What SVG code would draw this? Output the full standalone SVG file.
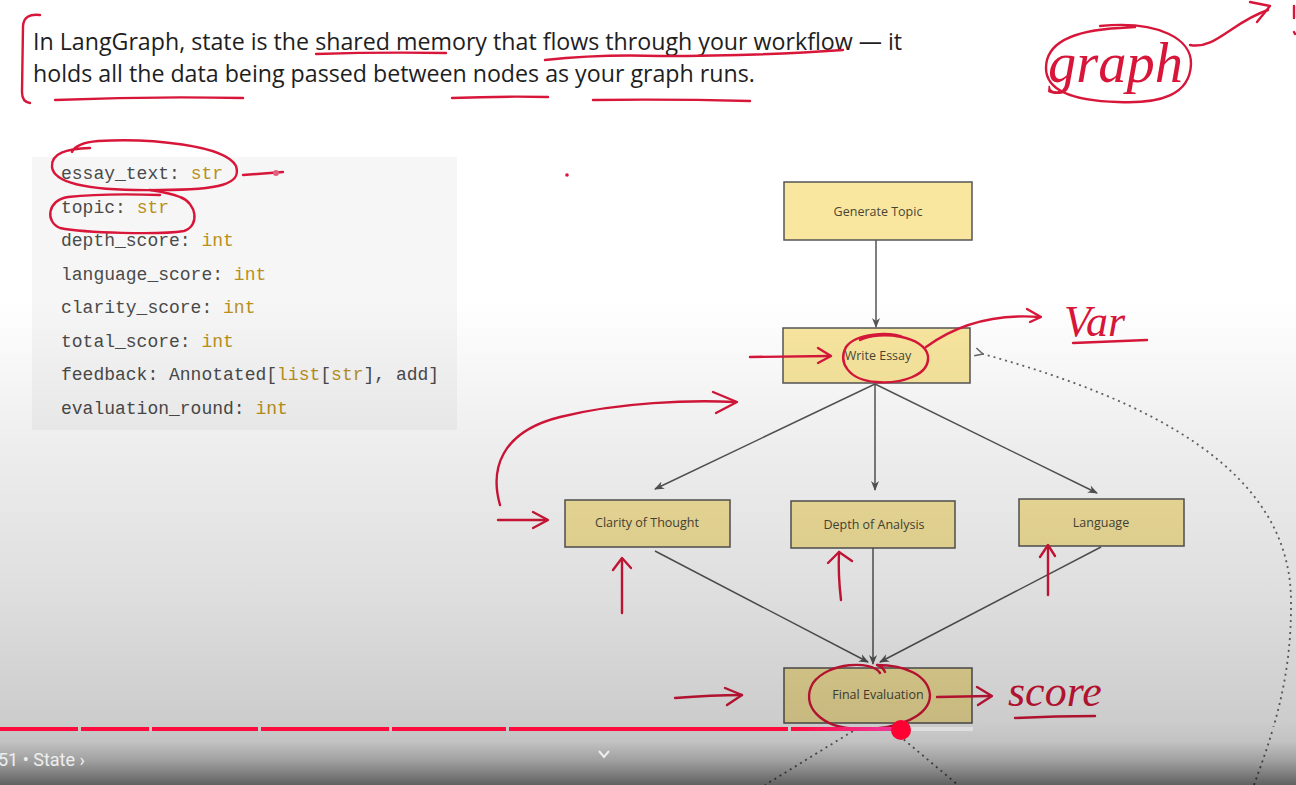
<svg xmlns="http://www.w3.org/2000/svg" width="1296" height="785" viewBox="0 0 1296 785">
<defs>
<style>
.head{font-family:"Open Sans","Liberation Sans",sans-serif;font-size:23.2px;fill:#1e1e1e}
.code{font-family:"Liberation Mono","DejaVu Sans Mono",monospace;font-size:18px;fill:#4a4a4a}
.ty{fill:#b8901c}
.node rect{fill:#f9e79f;stroke:#555;stroke-width:1.5}
.node text{font-family:"Open Sans","Liberation Sans",sans-serif;font-size:12.5px;fill:#4a4636;text-anchor:middle}
.edge{stroke:#555;stroke-width:1.5;fill:none}
.dot{stroke:#666;stroke-width:1.8;fill:none;stroke-dasharray:2 4}
.red{stroke:#d8163a;stroke-width:2.4;fill:none;stroke-linecap:round;stroke-linejoin:round}
.hand{font-family:"Liberation Serif","DejaVu Serif",serif;font-style:italic;fill:#d8163a}
.ui{font-family:Roboto,"Liberation Sans",sans-serif;font-size:18px;fill:#eeeeee}
</style>
<marker id="ah" viewBox="0 0 10 10" refX="9" refY="5" markerWidth="10" markerHeight="10" markerUnits="userSpaceOnUse" orient="auto">
<path d="M0,1 L10,5 L0,9 L3,5 z" fill="#555"/>
</marker>
<marker id="ahd" viewBox="0 0 10 10" refX="1" refY="5" markerWidth="10" markerHeight="10" markerUnits="userSpaceOnUse" orient="auto">
<path d="M9,1 L1,5 L9,9" fill="none" stroke="#666" stroke-width="1.5"/>
</marker>
<linearGradient id="shade" gradientUnits="userSpaceOnUse" x1="0" y1="0" x2="0" y2="785">
<stop offset="0.38" stop-color="#000" stop-opacity="0"/>
<stop offset="0.57" stop-color="#000" stop-opacity="0.07"/>
<stop offset="0.76" stop-color="#000" stop-opacity="0.13"/>
<stop offset="0.92" stop-color="#000" stop-opacity="0.2"/>
<stop offset="0.945" stop-color="#000" stop-opacity="0.24"/>
<stop offset="0.97" stop-color="#000" stop-opacity="0.38"/>
<stop offset="1" stop-color="#000" stop-opacity="0.62"/>
</linearGradient>
<linearGradient id="prog" x1="0" y1="0" x2="1" y2="0">
<stop offset="0" stop-color="#ff0a3c"/>
<stop offset="1" stop-color="#f03aa0"/>
</linearGradient>
</defs>

<rect x="0" y="0" width="1296" height="785" fill="#ffffff"/>

<!-- heading -->
<text class="head" x="33" y="50">In LangGraph, state is the shared memory that flows through your workflow — it</text>
<text class="head" x="33" y="82">holds all the data being passed between nodes as your graph runs.</text>

<!-- code block -->
<rect x="32" y="157" width="425" height="273" fill="#f6f6f6"/>
<text class="code" x="61" y="179">essay_text: <tspan class="ty">str</tspan></text>
<text class="code" x="61" y="213">topic: <tspan class="ty">str</tspan></text>
<text class="code" x="61" y="246">depth_score: <tspan class="ty">int</tspan></text>
<text class="code" x="61" y="280">language_score: <tspan class="ty">int</tspan></text>
<text class="code" x="61" y="313">clarity_score: <tspan class="ty">int</tspan></text>
<text class="code" x="61" y="347">total_score: <tspan class="ty">int</tspan></text>
<text class="code" x="61" y="380">feedback: Annotated[<tspan class="ty">list</tspan>[<tspan class="ty">str</tspan>], add]</text>
<text class="code" x="61" y="414">evaluation_round: <tspan class="ty">int</tspan></text>

<!-- connectors -->
<g id="connectors">
<line class="edge" x1="876" y1="240" x2="876" y2="327" marker-end="url(#ah)"/>
<line class="edge" x1="875" y1="384" x2="655" y2="489" marker-end="url(#ah)"/>
<line class="edge" x1="875" y1="384" x2="875" y2="490" marker-end="url(#ah)"/>
<line class="edge" x1="875" y1="384" x2="1097" y2="493" marker-end="url(#ah)"/>
<line class="edge" x1="655" y1="551" x2="868" y2="662" marker-end="url(#ah)"/>
<line class="edge" x1="873" y1="548" x2="873" y2="664" marker-end="url(#ah)"/>
<line class="edge" x1="1101" y1="547" x2="880" y2="662" marker-end="url(#ah)"/>
<path class="dot" d="M1254,785 C1272,735 1292,680 1291,600 C1290,470 1150,400 983,354" marker-end="url(#ahd)"/>
<line class="dot" x1="858" y1="728" x2="765" y2="785"/>
<line class="dot" x1="890" y1="728" x2="958" y2="785"/>
</g>

<!-- nodes -->
<g id="generate-topic" class="node"><rect x="784" y="182" width="188" height="58"/><text x="878" y="216">Generate Topic</text></g>
<g id="write-essay" class="node"><rect x="783" y="328" width="187" height="55"/><text x="878" y="360">Write Essay</text></g>
<g id="clarity" class="node"><rect x="565" y="500" width="165" height="47"/><text x="647" y="527">Clarity of Thought</text></g>
<g id="depth" class="node"><rect x="791" y="501" width="164" height="47"/><text x="874" y="529">Depth of Analysis</text></g>
<g id="language" class="node"><rect x="1019" y="499" width="165" height="47"/><text x="1101" y="527">Language</text></g>
<g id="final-evaluation" class="node"><rect x="784" y="668" width="188" height="55"/><text x="878" y="699">Final Evaluation</text></g>

<!-- red annotations -->
<g id="annotations">
<path class="red" d="M40,15 Q24,13 23,26 L22,92 Q22,102 30,103"/>
<path class="red" d="M316,54 Q380,52 446,53"/>
<path class="red" d="M545,60 Q600,54 660,56 Q760,56 843,50"/>
<path class="red" d="M55,100 Q150,96 243,98"/>
<path class="red" d="M452,98 Q500,96 548,97"/>
<path class="red" d="M593,100 Q670,99 750,101"/>

<path class="red" d="M1100,26 C1160,20 1192,40 1191,64 C1190,95 1160,104 1118,102 C1080,101 1046,93 1046,68 C1046,40 1080,30 1120,28 L1135,27"/>
<text class="hand" x="1048" y="82" font-size="56" textLength="135" lengthAdjust="spacingAndGlyphs">graph</text>
<path class="red" d="M1190,45 C1215,50 1232,22 1268,10"/>
<path class="red" d="M1250,2 L1270,6 L1257,22"/>
<path class="red" d="M1294,6 L1294,18 M1294,32 L1295,34"/>

<path class="red" d="M72,152 Q76,143 98,141 C150,138 225,145 236,166 C242,184 220,190 160,190 C100,191 54,186 52,167 C51,153 66,149 90,148"/>
<path class="red" d="M243,175 L283,172"/>
<circle cx="276" cy="173" r="3" fill="#e06080"/>
<path class="red" d="M150,190 Q170,193 180,197 C197,203 200,226 184,231 C160,235 85,233 60,228 C45,222 47,200 68,197 C95,194 130,194 160,195"/>
<circle cx="567" cy="175" r="1.8" fill="#d8163a"/>

<path class="red" d="M750,357 L830,356"/>
<path class="red" d="M818,348 L831,356 L818,363"/>
<path class="red" d="M860,340 C880,330 925,336 928,356 C930,376 900,384 876,382 C848,380 838,362 846,347 C856,333 890,331 905,338"/>
<path class="red" d="M926,347 C960,322 1000,314 1040,317"/>
<path class="red" d="M1027,309 L1041,317 L1030,322"/>
<text class="hand" x="1064" y="336" font-size="44">Var</text>
<path class="red" d="M1073,343 L1147,340"/>

<path class="red" d="M500,505 C490,470 500,432 560,417 C620,402 690,400 735,402"/>
<path class="red" d="M713,392 L737,402 L716,413"/>
<path class="red" d="M498,520 L547,520"/>
<path class="red" d="M533,512 L548,520 L533,528"/>
<path class="red" d="M622,613 L622,560"/>
<path class="red" d="M613,570 L622,558 L631,568"/>
<path class="red" d="M841,600 Q838,575 839,552"/>
<path class="red" d="M828,563 L839,552 L852,561"/>
<path class="red" d="M1048,595 L1048,546"/>
<path class="red" d="M1040,557 L1048,545 L1055,556"/>

<path class="red" d="M675,698 C700,696 720,695 742,695"/>
<path class="red" d="M725,688 L742,695 L727,705"/>
<path class="red" d="M880,673 C872,660 828,662 813,683 C800,705 820,728 858,729 C900,730 930,715 930,695 C928,675 905,665 877,665 Q883,667 885,672"/>
<path class="red" d="M937,697 L990,696"/>
<path class="red" d="M977,687 L992,696 L978,705"/>
<text class="hand" x="1008" y="706" font-size="44">score</text>
<path class="red" d="M1015,718 Q1055,716 1095,716"/>
</g>

<!-- video shading -->
<rect x="0" y="0" width="1296" height="785" fill="url(#shade)"/>

<!-- player UI -->
<g id="player">
<rect x="0" y="727" width="78" height="4" fill="#ff0a3c"/>
<rect x="81" y="727" width="68" height="4" fill="#ff0a3c"/>
<rect x="152" y="727" width="106" height="4" fill="#ff0a3c"/>
<rect x="261" y="727" width="128" height="4" fill="#ff0a3c"/>
<rect x="392" y="727" width="114" height="4" fill="#ff0a3c"/>
<rect x="509" y="727" width="279" height="4" fill="#ff0a3c"/>
<rect x="791" y="727" width="110" height="4" fill="url(#prog)"/>
<rect x="901" y="727" width="72" height="4" fill="#dedede"/>
<rect x="980" y="727" width="301" height="4" fill="#c8c8c8"/>
<rect x="1285" y="727" width="11" height="4" fill="#c8c8c8"/>
<circle cx="901" cy="730" r="10" fill="#ff0033"/>
<text class="ui" x="-2" y="766">51 • State ›</text>
<polyline points="599,751 604,757 609,751" fill="none" stroke="#eeeeee" stroke-width="2"/>
</g>
</svg>
